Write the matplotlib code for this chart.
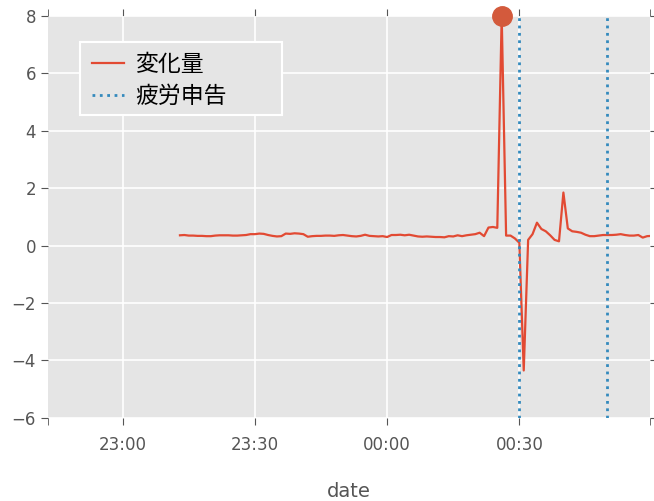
import matplotlib
matplotlib.use('Agg')
import matplotlib.pyplot as plt
import matplotlib.dates as mdates
from matplotlib.patches import Rectangle
import pandas as pd

#===========data===========
start_time = "2017-01-01 23:13"
values = [
    0.36, 0.37, 0.35, 0.35, 0.34, 0.34, 0.33, 0.33,
    0.35, 0.36, 0.36, 0.36, 0.35, 0.35, 0.36, 0.37,
    0.40, 0.40, 0.42, 0.41, 0.37, 0.34, 0.32, 0.33,
    0.42, 0.41, 0.43, 0.42, 0.40, 0.31, 0.33, 0.34,
    0.34, 0.35, 0.35, 0.34, 0.36, 0.37, 0.35, 0.33,
    0.32, 0.34, 0.38, 0.34, 0.33, 0.32, 0.33, 0.30,
    0.37, 0.37, 0.38, 0.36, 0.38, 0.35, 0.32, 0.31,
    0.32, 0.31, 0.30, 0.30, 0.29, 0.33, 0.32, 0.36,
    0.33, 0.36, 0.38, 0.40, 0.45, 0.33, 0.63, 0.65, 0.62,
    8.00, 0.35, 0.35, 0.25, 0.10, -4.35, 0.20, 0.40,
    0.80, 0.58, 0.50, 0.36, 0.20, 0.15, 1.85, 0.60,
    0.50, 0.48, 0.45, 0.38, 0.33, 0.33, 0.35, 0.37,
    0.37, 0.37, 0.38, 0.40, 0.37, 0.35, 0.35, 0.37,
    0.28, 0.33, 0.34,
]
fatigue_times = ["2017-01-02 00:30", "2017-01-02 00:50"]
xlim = ("2017-01-01 22:43", "2017-01-02 00:59:40")

times = pd.date_range(start_time, periods=len(values), freq="1min")
df = pd.DataFrame({"date": times, "change": values})

#===========style===========
plt.rcParams['font.family'] = ['DejaVu Sans', 'Noto Sans CJK JP']
red = "#E24A33"
blue = "#348ABD"

fig = plt.figure(figsize=(6.54, 5.01), dpi=100)
ax = fig.add_axes([0.073, 0.166, 0.921, 0.802])
ax.set_facecolor("#E5E5E5")
for s in ax.spines.values():
    s.set_visible(False)
ax.grid(True, color="white", linewidth=1.2)
ax.set_axisbelow(True)

ax.plot(df["date"], df["change"], color=red, linewidth=1.6, label="変化量")
imax = df["change"].idxmax()
ax.plot(df["date"][imax], df["change"][imax], "o", color="#D35A3C", markersize=14, clip_on=False, zorder=6)

for i, t in enumerate(fatigue_times):
    ax.axvline(pd.Timestamp(t), color=blue, linestyle=":", linewidth=2, label="疲労申告" if i == 0 else None)

ax.set_ylim(-6, 8)
ax.set_xlim(pd.Timestamp(xlim[0]), pd.Timestamp(xlim[1]))
ax.xaxis.set_major_locator(mdates.MinuteLocator(byminute=[0, 30]))
ax.xaxis.set_major_formatter(mdates.DateFormatter("%H:%M"))
ax.xaxis.set_minor_locator(matplotlib.ticker.FixedLocator([mdates.date2num(pd.Timestamp(x)) for x in xlim]))

ax.tick_params(which="both", direction="out", top=True, right=True, color="#555555", labelcolor="#555555", labelsize=12, length=5)
ax.tick_params(axis="x", pad=8)
ax.set_xlabel("date", fontsize=14, color="#555555", labelpad=20)

# legend frame is wider than its content, as in the original
ax.add_patch(Rectangle((0.053, 0.754), 0.336, 0.182, transform=ax.transAxes, facecolor="#E5E5E5",
                       edgecolor="white", linewidth=1.5, zorder=4.5))
leg = ax.legend(loc="upper left", bbox_to_anchor=(0.058, 0.93), fontsize=16.5, frameon=False,
                handlelength=1.4, handletextpad=0.5, borderaxespad=0, labelspacing=0.37)
leg.set_zorder(5)

fig.savefig("out.png", dpi=100)
